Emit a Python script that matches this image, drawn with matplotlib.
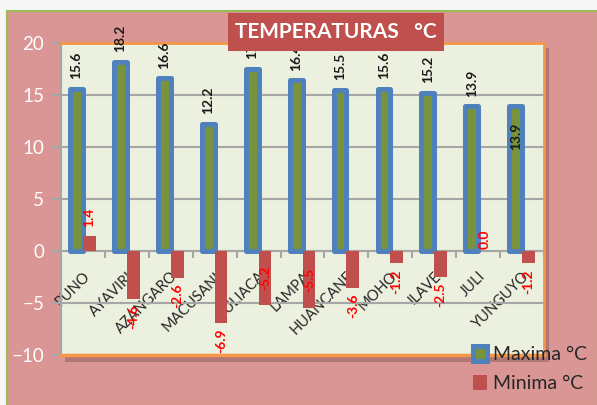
"""
Temperaturas maximas y minimas por estacion (Puno).
"""
import numpy as np
import matplotlib

matplotlib.use("Agg")
import matplotlib.pyplot as plt
from matplotlib.patches import Rectangle

stations = ["PUNO", "AYAVIRI", "AZANGARO", "MACUSANI", "JULIACA", "LAMPA",
            "HUANCANE", "MOHO", "ILAVE", "JULI", "YUNGUYO"]
maxima = [15.6, 18.2, 16.6, 12.2, 17.5, 16.4, 15.5, 15.6, 15.2, 13.9, 13.9]
minima = [1.4, -4.6, -2.6, -6.9, -5.2, -5.5, -3.6, -1.2, -2.5, 0.0, -1.2]
y_ticks = [-10, -5, 0, 5, 10, 15, 20]

# stations whose data label sits inside the bar
MAX_INSIDE = {"YUNGUYO"}
MIN_INSIDE = {"JULIACA", "LAMPA"}

W, H = 597, 405
PINK = "#D99694"
RED = "#C0504D"
ORANGE = "#F79646"
GREY = "#A6A6A6"

plt.rcParams["font.family"] = ["Lato", "DejaVu Sans"]


def px_box(x0, y0, x1, y1):
    """pixel box (top-left origin) -> figure fraction (x, y, w, h)"""
    return x0 / W, 1 - y1 / H, (x1 - x0) / W, (y1 - y0) / H


fig = plt.figure(figsize=(W / 100, H / 100), dpi=100)
fig.patch.set_facecolor("#F7F7F7")

# chart area and plot-area shadow
x0, y0, w0, h0 = px_box(7, 11, 598, 406)
fig.add_artist(Rectangle((x0, y0), w0, h0, transform=fig.transFigure,
                         facecolor=PINK, edgecolor="#9BBB59", lw=1.5, zorder=-3))
x0, y0, w0, h0 = px_box(65, 48, 549, 362)
fig.add_artist(Rectangle((x0, y0), w0, h0, transform=fig.transFigure,
                         facecolor="#AF7776", edgecolor="none", zorder=-2))

ax = fig.add_axes(px_box(61, 43, 544, 355))
ax.set_facecolor("#EBF1DE")

x = np.arange(len(stations))
bw = 0.29
bars_max = ax.bar(x - bw / 2, maxima, bw, color="#77933C", edgecolor="#4F81BD",
                  linewidth=3.6, joinstyle="round", zorder=3, label="Maxima °C")
bars_min = ax.bar(x + bw / 2, minima, bw, color=RED, zorder=4, label="Minima °C")

ax.set_xlim(-0.5, len(stations) - 0.5)
ax.set_ylim(-10, 20)
ax.set_yticks(y_ticks)
ax.grid(axis="y", color=GREY, lw=1.5, zorder=1)
ax.set_axisbelow(True)

ax.spines["left"].set_color(GREY)
ax.spines["left"].set_linewidth(1.5)
ax.spines["bottom"].set_position(("data", 0))
ax.spines["bottom"].set_color(GREY)
ax.spines["bottom"].set_linewidth(1.5)
ax.spines["bottom"].set_zorder(2)
for side in ["top", "right"]:
    ax.spines[side].set_color(ORANGE)
    ax.spines[side].set_linewidth(2)
ax.axhline(-10, color=ORANGE, lw=2.5, clip_on=False, zorder=5)

ax.tick_params(axis="y", colors=GREY, labelcolor="white", labelsize=13.5,
               length=7, width=1.5, pad=5)
ax.set_xticks(x)
ax.set_xticklabels(stations)
ax.set_xticks(np.arange(-0.5, len(stations), 1), minor=True)
ax.tick_params(axis="x", which="major", length=0, pad=13, labelsize=10.5,
               labelcolor="#262626")
ax.tick_params(axis="x", which="minor", length=5, width=1.5, color=GREY)
for lbl in ax.get_xticklabels():
    lbl.set_rotation(45)
    lbl.set_ha("right")
    lbl.set_va("top")
    lbl.set_rotation_mode("anchor")

# data labels
for xi, v, name in zip(x, maxima, stations):
    if name in MAX_INSIDE:
        off, va = -11.5, "top"
    else:
        off, va = 7, "bottom"
    ax.annotate(f"{v:.1f}", (xi - bw / 2, v), xytext=(0, off),
                textcoords="offset points", rotation=90, ha="center", va=va,
                fontsize=10, fontweight="bold", color="#1A1A1A", zorder=6)

for xi, v, name in zip(x, minima, stations):
    pos = (xi + bw / 2, v)
    if name in MIN_INSIDE:
        pos, off, va = (xi + bw / 2, v / 2), 0, "center"
    elif v > 0:
        off, va = 7, "bottom"
    elif v == 0:
        off, va = 1.5, "bottom"
    else:
        off, va = -4, "top"
    ax.annotate(f"{v:.1f}", pos, xytext=(0, off), textcoords="offset points",
                rotation=90, ha="center", va=va, fontsize=10,
                fontweight="bold", color="#FF0000", zorder=6)

# title box
x0, y0, w0, h0 = px_box(228, 13, 444, 51)
fig.add_artist(Rectangle((x0, y0), w0, h0, transform=fig.transFigure,
                         facecolor=RED, edgecolor="none", zorder=5))
fig.text(336 / W, 1 - 32 / H, "TEMPERATURAS   °C", ha="center", va="center",
         color="white", fontsize=15, fontweight="bold", zorder=6)

fig.legend([bars_max, bars_min], ["Maxima °C", "Minima °C"], loc="upper left",
           bbox_to_anchor=(465 / W, 1 - 338 / H), frameon=False, fontsize=14,
           handlelength=0.75, handleheight=0.8, handletextpad=0.3,
           labelspacing=0.6, labelcolor="#262626", borderaxespad=0)

fig.savefig("out.png", dpi=100)
